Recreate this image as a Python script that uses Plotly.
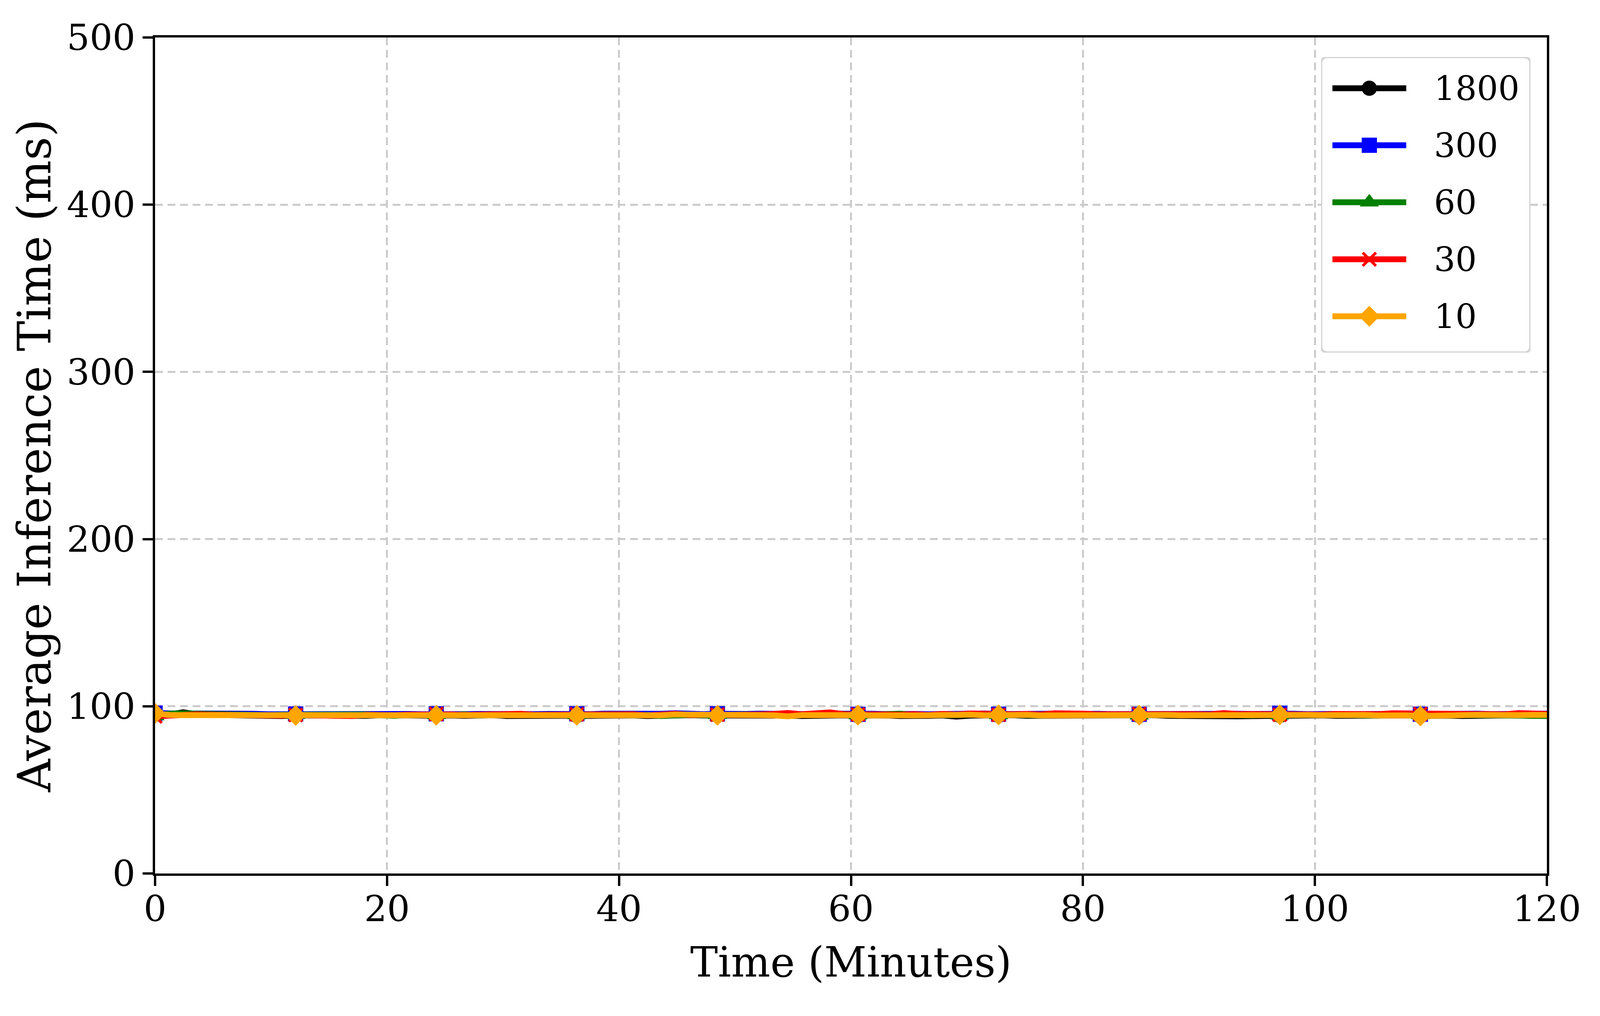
import numpy as np
import plotly.graph_objects as go

# ---- data ----
n_points = 100
minutes = np.linspace(0, 120, n_points)

labels = ["1800", "300", "60", "30", "10"]

series_1800 = [
    95.2, 95.0, 96.4, 95.1, 94.9, 94.7, 94.3, 94.6, 94.5, 94.2,
    94.6, 94.4, 94.8, 94.5, 94.6, 94.3, 94.7, 94.9, 94.6, 94.4,
    94.8, 94.5, 94.3, 94.6, 94.7, 94.2, 94.4, 94.6, 94.5, 94.8,
    94.4, 94.3, 94.6, 94.9, 94.5, 94.2, 94.6, 94.4, 94.7, 94.5,
    94.6, 94.3, 94.5, 94.8, 94.6, 94.4, 94.2, 94.5, 94.7, 94.6,
    94.4, 94.8, 94.5, 94.2, 94.6, 94.3, 94.5, 93.8, 94.4, 94.6,
    94.5, 94.7, 94.3, 94.4, 94.0, 93.9, 94.3, 94.6, 94.2, 94.5,
    94.4, 94.7, 94.3, 94.1, 94.4, 94.2, 93.7, 94.0, 94.1, 94.3,
    94.5, 94.2, 94.4, 94.6, 94.3, 94.5, 94.2, 94.4, 94.6, 94.5,
    94.3, 94.6, 94.4, 94.2, 94.5, 94.7, 94.4, 94.6, 94.3, 94.5,
]
series_300 = [
    95.9, 95.5, 95.6, 95.7, 95.8, 95.6, 95.3, 95.5, 95.2, 95.3,
    95.4, 95.2, 95.5, 95.3, 95.6, 95.4, 95.3, 95.7, 95.4, 95.2,
    95.5, 95.8, 95.3, 95.4, 95.2, 95.5, 95.6, 95.3, 95.4, 95.2,
    95.5, 95.3, 95.6, 95.4, 95.2, 95.3, 95.5, 95.8, 95.4, 95.3,
    95.5, 95.2, 95.4, 95.6, 95.3, 95.5, 95.4, 95.2, 95.6, 95.3,
    95.2, 95.5, 95.3, 95.6, 95.4, 95.2, 95.5, 95.3, 95.4, 95.7,
    95.3, 95.5, 95.2, 95.4, 95.6, 95.3, 95.8, 95.5, 95.3, 95.4,
    95.2, 95.5, 95.3, 95.6, 95.4, 95.2, 95.3, 95.5, 95.4, 95.6,
    95.8, 95.5, 95.3, 95.6, 95.4, 95.2, 95.5, 95.3, 95.4, 95.6,
    95.3, 95.5, 95.2, 95.4, 95.6, 95.3, 95.5, 95.7, 95.9, 95.6,
]
series_60 = [
    94.2, 95.6, 95.8, 95.5, 95.2, 95.0, 94.8, 95.1, 94.7, 94.9,
    95.0, 94.6, 94.8, 94.5, 94.9, 95.1, 94.7, 94.3, 94.8, 94.6,
    94.9, 94.7, 95.2, 94.5, 94.8, 94.6, 94.3, 94.9, 95.0, 94.7,
    94.8, 95.1, 94.6, 94.8, 94.5, 94.9, 94.2, 94.7, 94.9, 94.6,
    95.0, 94.7, 95.1, 94.8, 94.6, 94.9, 94.5, 94.8, 95.0, 95.4,
    94.7, 94.9, 94.6, 95.6, 94.8, 94.5, 94.9, 94.7, 95.0, 94.6,
    94.8, 95.1, 94.7, 94.4, 94.9, 94.6, 94.8, 95.0, 94.7, 94.9,
    94.6, 94.8, 94.5, 94.9, 94.7, 95.0, 94.6, 94.8, 94.5, 94.9,
    94.7, 95.0, 94.6, 94.8, 94.9, 94.5, 94.7, 94.4, 94.8, 94.6,
    94.9, 94.7, 94.5, 94.8, 94.6, 94.9, 94.5, 94.3, 94.4, 94.2,
]
series_30 = [
    94.0, 94.3, 95.4, 95.2, 95.0, 94.8, 95.1, 94.9, 94.6, 94.4,
    94.8, 94.5, 94.3, 94.6, 94.2, 94.9, 94.5, 94.7, 95.0, 95.2,
    95.4, 95.1, 94.8, 95.0, 95.3, 94.7, 95.5, 94.9, 95.0, 94.7,
    95.2, 95.4, 94.9, 95.0, 95.2, 94.6, 95.1, 95.5, 94.8, 95.2,
    95.0, 94.8, 95.3, 95.1, 95.4, 96.0, 95.2, 95.5, 96.3, 95.3,
    95.1, 94.9, 95.2, 95.0, 95.3, 94.8, 95.4, 95.1, 95.7, 95.3,
    94.9, 95.2, 95.4, 95.1, 95.8, 95.9, 95.6, 95.2, 95.3, 95.0,
    95.4, 95.2, 95.6, 95.0, 95.3, 95.1, 95.9, 95.4, 95.2, 95.5,
    94.9, 95.3, 95.1, 95.0, 95.4, 95.2, 95.6, 95.3, 95.8, 95.7,
    95.4, 95.8, 95.5, 95.3, 95.6, 95.4, 95.2, 95.9, 95.6, 95.4,
]
series_10 = [
    95.8, 94.8, 94.7, 94.7, 94.8, 94.6, 94.2, 94.9, 94.4, 94.5,
    94.5, 94.6, 94.6, 94.8, 94.9, 94.6, 94.7, 94.6, 94.8, 95.0,
    94.6, 94.3, 94.7, 94.6, 94.9, 94.7, 94.9, 95.0, 94.6, 94.8,
    94.6, 94.8, 94.9, 94.7, 94.5, 94.8, 94.6, 95.1, 94.9, 94.7,
    94.6, 94.8, 94.5, 94.7, 94.6, 94.0, 94.7, 94.9, 94.8, 94.6,
    94.7, 94.5, 94.8, 94.6, 94.5, 94.8, 94.9, 94.7, 95.0, 94.6,
    94.8, 94.7, 94.9, 94.5, 94.6, 94.2, 94.5, 94.7, 94.8, 94.6,
    94.7, 94.9, 94.8, 94.6, 94.7, 94.5, 94.1, 94.6, 94.8, 94.7,
    94.9, 94.6, 94.8, 94.7, 94.9, 94.6, 94.8, 94.5, 94.7, 94.6,
    94.2, 94.6, 94.8, 94.7, 94.9, 94.6, 94.8, 94.7, 94.9, 94.8,
]

x_ticks = [0, 20, 40, 60, 80, 100, 120]
y_ticks = [0, 100, 200, 300, 400, 500]

# ---- style ----
# the shot only covers 4096 px of width, so the layout is laid out on that
FONT = "DejaVu Serif"
W, H = 4096, 2602
ML, MR, MT, MB = 397, 136, 96, 365
colors = ["black", "blue", "green", "red", "orange"]
symbols = ["circle", "square", "triangle-up", "x-thin", "diamond"]
sizes = [39, 39, 43, 34, 41]
mark_every = 10
LW = 15

all_series = [series_1800, series_300, series_60, series_30, series_10]

fig = go.Figure()
for name, ys, col, sym, sz in zip(labels, all_series, colors, symbols, sizes):
    # markevery=10 : only every 10th point gets a visible marker
    msize = [sz if i % mark_every == 0 else 0 for i in range(len(ys))]
    mop = [1 if i % mark_every == 0 else 0 for i in range(len(ys))]
    fig.add_trace(go.Scatter(
        x=minutes, y=ys, name=name, mode="lines+markers", showlegend=False,
        line=dict(color=col, width=LW),
        marker=dict(symbol=sym, size=msize, opacity=mop, color=col,
                    line=dict(width=7 if sym == "x-thin" else 0, color=col)),
    ))

# ---- hand-made legend box (matplotlib style: big markers, rounded frame) ----
pw, ph = W - ML - MR, H - MT - MB
box_l, box_r, box_t, box_b = 3382, 3918, 146, 903      # figure px
bw, bh = box_r - box_l, box_b - box_t
dom_x = [(box_l - ML) / pw, (box_r - ML) / pw]
dom_y = [(H - MB - box_b) / ph, (H - MB - box_t) / ph]

rad = 15
t = np.linspace(0, np.pi / 2, 8)
corner_x, corner_y = [], []
for cx, cy, a0 in [(bw - rad, rad, -np.pi / 2), (bw - rad, bh - rad, 0),
                   (rad, bh - rad, np.pi / 2), (rad, rad, np.pi)]:
    corner_x += list(cx + rad * np.cos(a0 + t))
    corner_y += list(cy + rad * np.sin(a0 + t))
corner_x.append(corner_x[0])
corner_y.append(corner_y[0])
fig.add_trace(go.Scatter(
    x=corner_x, y=corner_y, xaxis="x2", yaxis="y2", mode="lines",
    fill="toself", fillcolor="rgba(255,255,255,0.8)", cliponaxis=False,
    line=dict(color="#d4d4d4", width=6), hoverinfo="skip", showlegend=False,
))

row_top, row_gap = 80, 146
line_x0, line_x1, text_x = 29, 218, 287
for k, (name, col, sym, sz) in enumerate(zip(labels, colors, symbols, sizes)):
    ry = row_top + k * row_gap
    fig.add_trace(go.Scatter(
        x=[line_x0, (line_x0 + line_x1) / 2, line_x1], y=[ry, ry, ry],
        xaxis="x2", yaxis="y2", mode="lines+markers", showlegend=False,
        hoverinfo="skip",
        line=dict(color=col, width=LW),
        marker=dict(symbol=sym, size=[0, sz, 0], opacity=[0, 1, 0], color=col,
                    line=dict(width=7 if sym == "x-thin" else 0, color=col)),
    ))
    fig.add_annotation(x=text_x, y=ry, xref="x2", yref="y2", text=name,
                       showarrow=False, xanchor="left", yanchor="middle",
                       font=dict(family=FONT, size=86, color="black"))

axis_style = dict(
    showline=True, linecolor="black", linewidth=6, mirror=True,
    ticks="outside", ticklen=26, tickwidth=6, tickcolor="black",
    showgrid=True, gridcolor="#cbcbcb", gridwidth=5, griddash="20px,12px",
    zeroline=False, tickfont=dict(family=FONT, size=92, color="black"),
)

fig.update_layout(
    width=W, height=H,
    margin=dict(l=ML, r=MR, t=MT, b=MB),
    paper_bgcolor="white", plot_bgcolor="white",
    font=dict(family=FONT, size=92, color="black"),
    showlegend=False,
    xaxis=dict(
        range=[0, 120], tickvals=x_ticks, ticklabelstandoff=-20,
        title=dict(text="Time (Minutes)", font=dict(family=FONT, size=106), standoff=48),
        **axis_style,
    ),
    yaxis=dict(
        range=[0, 500], tickvals=y_ticks,
        title=dict(text="Average Inference Time (ms)", font=dict(family=FONT, size=117), standoff=4),
        **axis_style,
    ),
    xaxis2=dict(domain=dom_x, range=[0, bw], anchor="y2", visible=False,
                fixedrange=True),
    yaxis2=dict(domain=dom_y, range=[bh, 0], anchor="x2", visible=False,
                fixedrange=True),
)

fig.write_html("out.html", config={"displayModeBar": False},
               post_script="document.body.style.margin='0';")
